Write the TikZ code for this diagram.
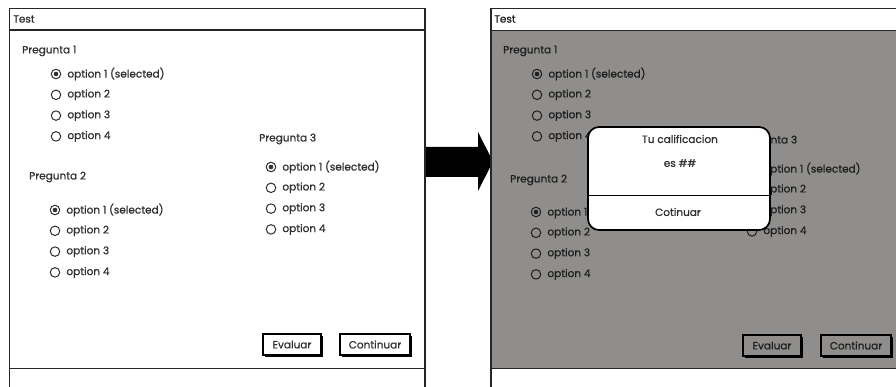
\documentclass[tikz,border=0pt]{standalone}
\usepackage{fontspec}
\setmainfont{Poppins}[FakeBold=0.8]
\definecolor{txt}{HTML}{303030}
\definecolor{txtd}{HTML}{1E1E1E}
\definecolor{greyfill}{HTML}{8F8E8C}
\begin{document}
\begin{tikzpicture}[x=1pt,y=-1pt,
  font=\fontsize{10.5}{12}\selectfont,
  frame/.style={draw=black!85, line width=1.8pt},
  lbl/.style={anchor=west, inner sep=0pt, text=#1},
  lbl/.default=txt,
  radio/.style={circle, draw=#1, line width=1pt, minimum size=9.5pt, inner sep=0pt},
  radio/.default=txt,
  btn/.style={draw=black, line width=1.3pt, fill=white, minimum height=21pt, inner sep=0pt, text=txt},
  btnshadow/.style={fill=black, minimum height=21pt, inner sep=0pt, draw=none},
]
\useasboundingbox (0,0) rectangle (896,387);
\fill[white] (0,0) rectangle (896,387);

% ---------- options macro ----------
\newcommand\myoptions[4]{% #1 x of radio, #2 y of first, #3 name prefix, #4 colour
  \foreach \i/\t in {1/option 1 (selected),2/option 2,3/option 3,4/option 4}{
    \node[radio=#4] (#3r\i) at (#1, {#2+(\i-1)*20.8}) {};
    \node[lbl=#4] (#3o\i) at ([xshift=6pt]#3r\i.east) {\t};
  }
  \fill[#4] (#3r1.center) circle (2.3pt);
}

% ---------- left window ----------
\coordinate (LTL) at (9.5,8.5);
\coordinate (LTR) at (425,8.5);
\draw[frame] (9.5,387) -- (LTL) -- (LTR) -- (425,387);
\draw[frame] (9.5,30) -- (425,30);
\draw[frame] (9.5,368.5) -- (425,368.5);
\node[lbl] (ltitle) at (13,19) {Test};
\node[lbl] (lq1) at (22,51) {Pregunta 1};
\myoptions{56}{74}{la}{txt}
\node[lbl] (lq2) at (29,177) {Pregunta 2};
\myoptions{55}{210}{lb}{txt}
\node[lbl] (lq3) at (259,139) {Pregunta 3};
\myoptions{271}{167}{lc}{txt}
\node[btnshadow, minimum width=58pt] at (294,346.5) {};
\node[btn, minimum width=58pt] (levaluar) at (292,344.5) {Evaluar};
\node[btnshadow, minimum width=70pt] at (377,346.5) {};
\node[btn, minimum width=70pt] (lcont) at (375,344.5) {Continuar};

% ---------- arrow ----------
\fill[black] (426,147) -- (478,147) -- (478,132) -- (493,161.5) -- (478,191) -- (478,177) -- (426,177) -- cycle;

% ---------- right window ----------
\fill[greyfill] (491,30) rectangle (896,368.5);
\coordinate (RTL) at (491,8.5);
\draw[frame] (491,387) -- (RTL) -- (900,8.5);
\draw[frame] (491,30.5) -- (900,30.5);
\draw[frame] (491,368.5) -- (900,368.5);
\node[lbl=txtd] (rtitle) at (494,19) {Test};
\node[lbl=txtd] (rq1) at (503,51) {Pregunta 1};
\myoptions{537}{74}{ra}{txtd}
\node[lbl=txtd] (rq2) at (510,180) {Pregunta 2};
\myoptions{536}{212}{rb}{txtd}
\node[lbl=txtd] (rq3) at (740,141) {Pregunta 3};
\myoptions{752}{169}{rc}{txtd}
\node[btnshadow, minimum width=58pt] at (774,347.5) {};
\node[btn, fill=greyfill, minimum width=58pt, text=txtd] (revaluar) at (772,345.5) {Evaluar};
\node[btnshadow, minimum width=70pt] at (858,347.5) {};
\node[btn, fill=greyfill, minimum width=70pt, text=txtd] (rcont) at (856,345.5) {Continuar};

% ---------- dialog ----------
\node[draw=black, line width=1.7pt, fill=white, rounded corners=11pt,
      minimum width=182pt, minimum height=103pt, inner sep=0pt] (dlg) at (679,178.5) {};
\draw[line width=1.5pt, black] (dlg.west |- 0,195.5) -- (dlg.east |- 0,195.5);
\node[inner sep=0pt, text=txt] (dtitle) at (680,139) {Tu calificacion};
\node[inner sep=0pt, text=txt] (dscore) at (680,163) {es \#\#};
\node[inner sep=0pt, text=txt] (dbtn) at (678,212) {Cotinuar};
\end{tikzpicture}
\end{document}
